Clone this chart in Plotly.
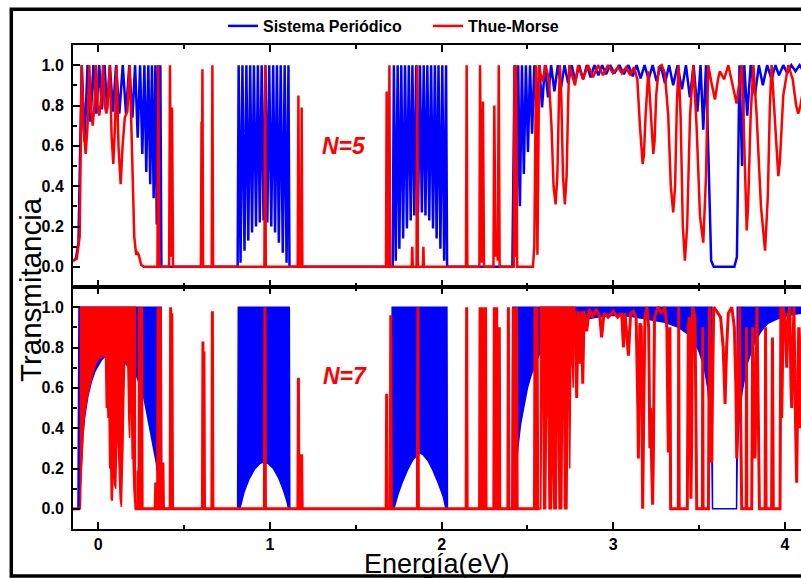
import plotly.graph_objects as go

# ---------------- data ----------------
# N=5, periodic system: (energy eV, transmittance)
blue5 = [
    (-0.147, 0.03), (-0.130, 0.04), (-0.115, 0.12), (-0.105, 0.5), (-0.096, 1.0),
    (-0.079, 0.62), (-0.062, 1.0), (-0.045, 0.72), (-0.028, 1.0), (-0.011, 0.76),
    (0.006, 1.0), (0.021, 0.78), (0.037, 1.0), (0.052, 0.78), (0.068, 1.0),
    (0.086, 0.77), (0.104, 1.0), (0.123, 0.76), (0.143, 1.0), (0.162, 0.76),
    (0.181, 1.0), (0.199, 0.74), (0.215, 1.0), (0.230, 0.64), (0.244, 1.0),
    (0.257, 0.56), (0.269, 1.0), (0.280, 0.47), (0.292, 1.0), (0.303, 0.41),
    (0.313, 1.0), (0.323, 0.34), (0.333, 1.0), (0.341, 0.21), (0.349, 1.0),
    (0.356, 0.08), (0.362, 1.0), (0.368, 0.0),
    (0.812, 0.0), (0.818, 1.0), (0.829, 0.02), (0.840, 1.0), (0.852, 0.08), (0.863, 1.0),
    (0.874, 0.13), (0.885, 1.0), (0.896, 0.17), (0.907, 1.0), (0.919, 0.20), (0.930, 1.0),
    (0.941, 0.22), (0.952, 1.0), (0.963, 0.23), (0.974, 1.0), (0.985, 0.22), (0.996, 1.0),
    (1.008, 0.20), (1.019, 1.0), (1.030, 0.17), (1.041, 1.0), (1.052, 0.12), (1.063, 1.0),
    (1.075, 0.07), (1.086, 1.0), (1.097, 0.02), (1.108, 1.0), (1.114, 0.0),
    (1.715, 0.0), (1.722, 1.0), (1.733, 0.03), (1.744, 1.0), (1.754, 0.09), (1.765, 1.0),
    (1.776, 0.14), (1.787, 1.0), (1.798, 0.19), (1.809, 1.0), (1.820, 0.23), (1.830, 1.0),
    (1.841, 0.255), (1.852, 1.0), (1.863, 0.27), (1.874, 1.0), (1.885, 0.27), (1.896, 1.0),
    (1.906, 0.255), (1.917, 1.0), (1.928, 0.23), (1.939, 1.0), (1.950, 0.19), (1.961, 1.0),
    (1.971, 0.14), (1.982, 1.0), (1.993, 0.09), (2.004, 1.0), (2.015, 0.03), (2.026, 1.0),
    (2.032, 0.0),
    (2.412, 0.0), (2.425, 1.0), (2.435, 0.05), (2.446, 1.0), (2.456, 0.30), (2.468, 1.0),
    (2.479, 0.46), (2.491, 1.0), (2.503, 0.57), (2.515, 1.0), (2.527, 0.66), (2.540, 1.0),
    (2.554, 0.73), (2.569, 1.0), (2.585, 0.79), (2.602, 1.0), (2.620, 0.84), (2.638, 1.0),
    (2.657, 0.87), (2.677, 1.0), (2.696, 0.89), (2.716, 1.0), (2.737, 0.91), (2.758, 1.0),
    (2.779, 0.92), (2.801, 1.0), (2.824, 0.93), (2.846, 1.0), (2.868, 0.94), (2.890, 1.0),
    (2.913, 0.95), (2.935, 1.0), (2.958, 0.955), (2.982, 1.0), (3.006, 0.96), (3.035, 1.0),
    (3.062, 0.955), (3.088, 1.0), (3.113, 0.945), (3.136, 1.0), (3.159, 0.935), (3.182, 1.0),
    (3.206, 0.93), (3.229, 1.0), (3.252, 0.92), (3.276, 1.0), (3.301, 0.91), (3.325, 1.0),
    (3.349, 0.90), (3.374, 1.0), (3.400, 0.88), (3.423, 1.0), (3.446, 0.84), (3.468, 1.0),
    (3.490, 0.77), (3.508, 1.0), (3.524, 0.68), (3.540, 1.0), (3.555, 0.45), (3.570, 0.03),
    (3.585, 0.0),
    (3.705, 0.0), (3.720, 0.05), (3.735, 1.0), (3.750, 0.5), (3.763, 1.0), (3.780, 0.75),
    (3.800, 1.0), (3.825, 0.85), (3.848, 1.0), (3.871, 0.90), (3.896, 1.0), (3.922, 0.93),
    (3.944, 1.0), (3.965, 0.95), (3.990, 1.0), (4.013, 0.96), (4.037, 1.0), (4.061, 0.97),
    (4.085, 1.0), (4.100, 0.98),
]

# N=5, Thue-Morse
red5 = [
    (-0.147, 0.03), (-0.125, 0.04), (-0.108, 0.15), (-0.096, 1.0), (-0.085, 0.68),
    (-0.073, 0.56), (-0.062, 0.70), (-0.052, 1.0), (-0.042, 0.78), (-0.032, 0.70),
    (-0.022, 0.80), (-0.013, 1.0), (-0.003, 0.80), (0.006, 0.75), (0.016, 0.82),
    (0.028, 1.0), (0.038, 0.80), (0.048, 0.76), (0.058, 0.85), (0.068, 1.0),
    (0.078, 0.65), (0.088, 0.51), (0.098, 0.70), (0.107, 1.0), (0.118, 0.60),
    (0.131, 0.41), (0.142, 0.60), (0.155, 0.74), (0.170, 0.77), (0.183, 1.0),
    (0.190, 0.80), (0.197, 0.55), (0.210, 0.15), (0.221, 0.06), (0.229, 0.07),
    (0.236, 0.06), (0.250, 0.01), (0.265, 0.0), (0.345, 0.0), (0.350, 1.0),
    (0.356, 0.0), (0.413, 0.0), (0.418, 1.0), (0.424, 0.05), (0.430, 0.79),
    (0.436, 0.0), (0.598, 0.0), (0.602, 0.72), (0.604, 0.3), (0.607, 0.98),
    (0.611, 0.0), (0.661, 0.0), (0.665, 1.0), (0.669, 0.0), (0.968, 0.0),
    (0.972, 1.0), (0.976, 0.0), (1.162, 0.0), (1.166, 0.85), (1.170, 0.0),
    (1.181, 0.0), (1.185, 0.79), (1.189, 0.0), (1.676, 0.0), (1.680, 0.87),
    (1.684, 0.0), (1.692, 0.0), (1.696, 1.0), (1.700, 0.0), (1.826, 0.0),
    (1.829, 0.1), (1.832, 0.0), (1.854, 0.0), (1.858, 1.0), (1.862, 0.0),
    (1.891, 0.0), (1.894, 0.1), (1.897, 0.0), (2.142, 0.0), (2.146, 1.0),
    (2.150, 0.0), (2.220, 0.0), (2.224, 1.0), (2.232, 0.02), (2.241, 0.82),
    (2.247, 0.0), (2.302, 0.0), (2.307, 0.80), (2.314, 0.05), (2.321, 0.17),
    (2.327, 0.03), (2.333, 1.0), (2.338, 0.0), (2.420, 0.0), (2.425, 1.0),
    (2.430, 0.05), (2.434, 1.0), (2.440, 0.0), (2.532, 0.0), (2.540, 0.1),
    (2.545, 0.5), (2.550, 1.0), (2.555, 0.4), (2.558, 0.06), (2.562, 0.4),
    (2.568, 1.0), (2.578, 0.95), (2.590, 0.92), (2.605, 1.0), (2.625, 0.93),
    (2.640, 0.70), (2.652, 0.40), (2.664, 0.31), (2.674, 0.45), (2.684, 0.85),
    (2.689, 1.0), (2.697, 0.85), (2.707, 0.45), (2.718, 0.31), (2.728, 0.45),
    (2.738, 0.85), (2.744, 1.0), (2.760, 0.95), (2.777, 0.90), (2.795, 1.0),
    (2.824, 0.93), (2.853, 1.0), (2.882, 0.94), (2.911, 1.0), (2.940, 0.95),
    (2.969, 1.0), (2.998, 0.96), (3.027, 0.99), (3.050, 0.96), (3.075, 0.99),
    (3.098, 0.95), (3.120, 0.99), (3.140, 0.93), (3.155, 0.70), (3.165, 0.55),
    (3.171, 0.51), (3.178, 0.55), (3.188, 0.75), (3.204, 0.97), (3.216, 0.80),
    (3.226, 0.60), (3.233, 0.56), (3.240, 0.62), (3.250, 0.85), (3.265, 0.99),
    (3.282, 1.0), (3.300, 0.96), (3.320, 0.75), (3.335, 0.40), (3.349, 0.27),
    (3.360, 0.40), (3.370, 0.80), (3.380, 1.0), (3.392, 0.75), (3.405, 0.20),
    (3.417, 0.03), (3.430, 0.20), (3.447, 0.75), (3.466, 1.0), (3.485, 0.70),
    (3.505, 0.25), (3.524, 0.12), (3.540, 0.45), (3.553, 1.0), (3.570, 0.92),
    (3.592, 0.83), (3.610, 0.93), (3.621, 0.97), (3.645, 0.93), (3.670, 1.0),
    (3.695, 0.90), (3.718, 0.81), (3.735, 0.92), (3.748, 1.0), (3.760, 0.70),
    (3.770, 0.30), (3.777, 0.18), (3.785, 0.30), (3.800, 0.75), (3.816, 1.0),
    (3.835, 0.75), (3.860, 0.30), (3.884, 0.08), (3.900, 0.35), (3.912, 0.80),
    (3.922, 1.0), (3.940, 0.75), (3.955, 0.50), (3.961, 0.45), (3.970, 0.52),
    (3.990, 0.85), (4.019, 1.0), (4.045, 0.93), (4.065, 0.80), (4.077, 0.76),
    (4.090, 0.80), (4.100, 0.85),
]

# N=7, periodic system: dense bands as (energy, lower envelope, upper envelope)
blue7 = [
    (-0.147, 0, 0), (-0.118, 0, 0), (-0.112, 0, 1.0), (-0.105, 0.10, 1.0), (-0.100, 0.22, 1.0),
    (-0.090, 0.36, 1.0), (-0.080, 0.45, 1.0), (-0.060, 0.56, 1.0), (-0.040, 0.63, 1.0),
    (-0.020, 0.68, 1.0), (0.000, 0.71, 1.0), (0.020, 0.74, 1.0), (0.040, 0.755, 1.0),
    (0.060, 0.76, 1.0), (0.080, 0.755, 1.0), (0.100, 0.75, 1.0), (0.120, 0.74, 1.0),
    (0.140, 0.73, 1.0), (0.160, 0.72, 1.0), (0.180, 0.70, 1.0), (0.200, 0.68, 1.0),
    (0.222, 0.66, 1.0), (0.240, 0.62, 1.0), (0.261, 0.57, 1.0), (0.280, 0.49, 1.0),
    (0.300, 0.40, 1.0), (0.320, 0.31, 1.0), (0.338, 0.23, 1.0), (0.352, 0.13, 1.0),
    (0.362, 0.07, 1.0), (0.367, 0.0, 1.0), (0.370, 0, 0),
    (0.812, 0, 0), (0.816, 0, 1.0), (0.825, 0.0, 1.0), (0.850, 0.085, 1.0), (0.880, 0.15, 1.0),
    (0.910, 0.196, 1.0), (0.940, 0.224, 1.0), (0.965, 0.232, 1.0), (0.990, 0.225, 1.0),
    (1.020, 0.20, 1.0), (1.050, 0.155, 1.0), (1.080, 0.09, 1.0), (1.100, 0.035, 1.0),
    (1.108, 0.0, 1.0), (1.113, 0.0, 1.0), (1.116, 0, 0),
    (1.708, 0, 0), (1.712, 0, 1.0), (1.722, 0.0, 1.0), (1.745, 0.07, 1.0), (1.770, 0.13, 1.0),
    (1.800, 0.19, 1.0), (1.830, 0.24, 1.0), (1.860, 0.27, 1.0), (1.875, 0.275, 1.0),
    (1.890, 0.27, 1.0), (1.920, 0.24, 1.0), (1.950, 0.19, 1.0), (1.980, 0.13, 1.0),
    (2.010, 0.06, 1.0), (2.025, 0.0, 1.0), (2.031, 0.0, 1.0), (2.034, 0, 0),
    (2.410, 0, 0), (2.414, 0, 1.0), (2.420, 0.05, 1.0), (2.430, 0.17, 1.0), (2.445, 0.31, 1.0),
    (2.460, 0.42, 1.0), (2.480, 0.52, 1.0), (2.500, 0.60, 1.0), (2.520, 0.66, 1.0),
    (2.550, 0.73, 1.0), (2.580, 0.79, 1.0), (2.620, 0.84, 1.0), (2.660, 0.87, 1.0),
    (2.700, 0.90, 1.0), (2.750, 0.92, 1.0), (2.800, 0.935, 1.0), (2.900, 0.95, 1.0),
    (3.000, 0.96, 1.0), (3.100, 0.955, 1.0), (3.200, 0.94, 1.0), (3.300, 0.925, 1.0),
    (3.380, 0.90, 1.0), (3.430, 0.87, 1.0), (3.470, 0.83, 1.0), (3.500, 0.78, 1.0),
    (3.530, 0.70, 1.0), (3.550, 0.60, 1.0), (3.565, 0.45, 1.0), (3.574, 0.25, 1.0),
    (3.578, 0, 0), (3.718, 0, 0), (3.722, 0.26, 1.0), (3.730, 0.42, 1.0), (3.750, 0.58, 1.0),
    (3.780, 0.72, 1.0), (3.820, 0.82, 1.0), (3.860, 0.88, 1.0), (3.900, 0.92, 1.0),
    (3.950, 0.94, 1.0), (4.000, 0.955, 1.0), (4.050, 0.965, 1.0), (4.100, 0.97, 1.0),
]

# N=7, Thue-Morse: dense regions as (energy, lower envelope); upper envelope is 1.0
red7_band_low = [
    (-0.108, 0.0), (-0.104, 0.0), (-0.100, 0.15), (-0.094, 0.30), (-0.088, 0.37),
    (-0.079, 0.47), (-0.070, 0.53), (-0.060, 0.57), (-0.050, 0.61), (-0.041, 0.65),
    (-0.030, 0.68), (-0.020, 0.70), (-0.011, 0.73), (0.000, 0.74), (0.010, 0.75),
    (0.020, 0.755), (0.028, 0.76), (0.036, 0.755), (0.043, 0.75), (0.047, 0.50),
    (0.052, 0.62), (0.057, 0.45), (0.062, 0.55), (0.067, 0.20), (0.072, 0.30),
    (0.076, 0.05), (0.082, 0.04), (0.086, 0.15), (0.090, 0.30), (0.096, 0.12),
    (0.102, 0.10), (0.107, 0.30), (0.111, 0.45), (0.116, 0.35), (0.121, 0.20),
    (0.128, 0.05), (0.135, 0.01), (0.140, 0.12), (0.144, 0.30), (0.149, 0.55),
    (0.154, 0.73), (0.164, 0.75), (0.173, 0.70), (0.178, 0.45), (0.183, 0.35),
    (0.188, 0.60), (0.193, 0.55), (0.198, 0.25), (0.203, 0.25), (0.208, 0.10),
    (0.212, 0.0), (0.216, 0.0),
]
red7_band_mid = [
    (2.572, 0.0), (2.578, 0.0), (2.582, 0.5), (2.590, 0.6), (2.595, 0.0), (2.606, 0.0),
    (2.611, 0.45), (2.620, 0.55), (2.626, 0.0), (2.640, 0.0), (2.645, 0.3), (2.650, 0.3),
    (2.654, 0.0), (2.668, 0.0), (2.672, 0.4), (2.680, 0.45), (2.684, 0.0), (2.700, 0.0),
    (2.704, 0.5), (2.712, 0.5), (2.716, 0.0), (2.730, 0.0), (2.735, 0.55), (2.742, 0.65),
    (2.746, 0.2), (2.752, 0.7), (2.760, 0.8), (2.766, 0.6), (2.772, 0.9), (2.776, 0.95),
]
red7_band_top = 1.0

# N=7, Thue-Morse: rest of the curve (None = break)
red7 = [
    (-0.147, 0.0), (-0.108, 0.0), (-0.108, None),
    (0.212, 0.0), (0.229, 0.0), (0.232, 0.19), (0.235, 0.0), (0.237, 0.0), (0.240, 1.0),
    (0.243, 0.0), (0.250, 0.0), (0.253, 1.0), (0.256, 0.0), (0.332, 0.0), (0.335, 0.13),
    (0.338, 0.0), (0.346, 0.0), (0.349, 1.0), (0.352, 0.0), (0.359, 0.0), (0.362, 1.0),
    (0.365, 0.0), (0.374, 0.0), (0.377, 0.23), (0.380, 0.0), (0.419, 0.0), (0.422, 1.0),
    (0.426, 0.0), (0.429, 0.97), (0.433, 0.0), (0.607, 0.0), (0.610, 0.83), (0.613, 0.3),
    (0.616, 0.78), (0.619, 0.0), (0.662, 0.0), (0.665, 0.98), (0.668, 0.0), (0.968, 0.0),
    (0.971, 1.0), (0.974, 0.0), (1.163, 0.0), (1.166, 0.65), (1.169, 0.0), (1.182, 0.0),
    (1.185, 0.27), (1.188, 0.0), (1.677, 0.0), (1.680, 0.57), (1.683, 0.0), (1.701, 0.0),
    (1.704, 0.96), (1.707, 0.0), (1.859, 0.0), (1.862, 1.0), (1.865, 0.0), (2.143, 0.0),
    (2.146, 1.0), (2.149, 0.0), (2.221, 0.0), (2.224, 1.0), (2.228, 0.0), (2.235, 0.0),
    (2.238, 1.0), (2.241, 0.0), (2.253, 0.0), (2.256, 1.0), (2.259, 0.0), (2.304, 0.0),
    (2.307, 1.0), (2.311, 0.0), (2.318, 0.0), (2.321, 1.0), (2.325, 0.0), (2.333, 0.0),
    (2.336, 0.9), (2.339, 0.0), (2.386, 0.0), (2.389, 1.0), (2.392, 0.0), (2.415, 0.0),
    (2.418, 1.0), (2.422, 0.0), (2.424, 0.0), (2.427, 1.0), (2.431, 0.0), (2.434, 0.0),
    (2.437, 1.0), (2.440, 0.0), (2.541, 0.0), (2.544, 1.0), (2.548, 0.0), (2.553, 0.0),
    (2.556, 1.0), (2.560, 0.0), (2.572, 0.0), (2.573, None),
    (2.776, 0.98), (2.787, 0.55), (2.795, 0.98), (2.806, 0.72), (2.814, 0.98), (2.822, 0.62),
    (2.830, 0.98), (2.845, 0.88), (2.860, 0.99), (2.880, 0.95), (2.900, 0.99), (2.922, 0.95),
    (2.932, 0.85), (2.946, 0.97), (2.970, 0.95), (3.000, 0.98), (3.025, 0.95), (3.049, 0.97),
    (3.059, 0.80), (3.068, 0.97), (3.088, 0.76), (3.101, 0.97), (3.117, 0.98), (3.133, 0.95),
    (3.143, 0.5), (3.146, 0.25), (3.150, 0.6), (3.155, 0.92), (3.163, 0.90), (3.168, 0.3),
    (3.171, 0.0), (3.175, 0.3), (3.184, 0.95), (3.196, 1.0), (3.206, 0.9), (3.213, 0.3),
    (3.217, 0.5), (3.224, 0.2), (3.229, 0.02), (3.234, 0.3), (3.240, 0.95), (3.260, 1.0),
    (3.281, 0.97), (3.300, 1.0), (3.312, 0.90), (3.318, 0.45), (3.321, 0.28), (3.325, 0.5),
    (3.330, 0.90), (3.334, 0.0), (3.379, 0.0), (3.381, 1.0), (3.384, 0.0), (3.431, 0.0),
    (3.437, 0.9), (3.443, 0.95), (3.448, 0.3), (3.452, 0.05), (3.456, 0.3), (3.462, 1.0),
    (3.476, 0.95), (3.483, 0.3), (3.486, 0.0), (3.519, 0.0), (3.521, 0.9), (3.523, 0.0),
    (3.554, 0.0), (3.560, 1.0), (3.568, 0.6), (3.573, 0.23), (3.578, 0.6), (3.585, 1.0),
    (3.602, 0.98), (3.625, 0.95), (3.640, 0.8), (3.651, 0.52), (3.660, 0.8), (3.670, 0.97),
    (3.690, 1.0), (3.705, 0.9), (3.714, 0.6), (3.719, 0.25), (3.725, 0.6), (3.734, 1.0),
    (3.744, 0.3), (3.748, 0.0), (3.774, 0.0), (3.776, 0.9), (3.778, 0.0), (3.806, 0.0),
    (3.812, 0.9), (3.820, 0.5), (3.825, 0.25), (3.830, 0.5), (3.837, 1.0), (3.847, 0.3),
    (3.851, 0.0), (3.884, 0.0), (3.887, 0.9), (3.890, 0.0), (3.922, 0.0), (3.927, 0.85),
    (3.932, 0.0), (3.971, 0.0), (3.976, 1.0), (3.981, 0.45), (3.990, 1.0), (4.003, 0.9),
    (4.010, 0.7), (4.017, 0.95), (4.028, 1.0), (4.035, 0.6), (4.039, 0.5), (4.044, 0.7),
    (4.052, 1.0), (4.062, 0.4), (4.068, 0.13), (4.073, 0.5), (4.080, 0.9), (4.087, 0.4),
    (4.095, 0.8), (4.100, 0.9),
]

x_ticks = [0, 1, 2, 3, 4]
x_tick_labels = ["0", "1", "2", "3", "4"]
y_ticks = [0.0, 0.2, 0.4, 0.6, 0.8, 1.0]
y_tick_labels = ["0.0", "0.2", "0.4", "0.6", "0.8", "1.0"]
series_names = ["Sistema Periódico", "Thue-Morse"]
panel_labels = ["N=5", "N=7"]

BLUE = "#0000FF"
RED = "#FF0000"
FONT = "Liberation Sans"

# ---------------- figure ----------------
fig = go.Figure()

fig.add_trace(go.Scatter(x=[p[0] for p in blue5], y=[p[1] for p in blue5], mode="lines",
                         line=dict(color=BLUE, width=2.5), name=series_names[0],
                         xaxis="x2", yaxis="y2"))
fig.add_trace(go.Scatter(x=[p[0] for p in red5], y=[p[1] for p in red5], mode="lines",
                         line=dict(color=RED, width=2.5), name=series_names[1],
                         xaxis="x2", yaxis="y2"))

# N=7 periodic: filled band between the envelopes
bx = [p[0] for p in blue7] + [p[0] for p in blue7][::-1]
by = [p[1] for p in blue7] + [p[2] for p in blue7][::-1]
fig.add_trace(go.Scatter(x=bx, y=by, mode="lines", fill="toself", fillcolor=BLUE,
                         line=dict(color=BLUE, width=1.5), showlegend=False,
                         xaxis="x", yaxis="y"))

for band in (red7_band_low, red7_band_mid):
    rx = [p[0] for p in band] + [p[0] for p in band][::-1]
    ry = [p[1] for p in band] + [red7_band_top] * len(band)
    fig.add_trace(go.Scatter(x=rx, y=ry, mode="lines", fill="toself", fillcolor=RED,
                             line=dict(color=RED, width=1.5), showlegend=False,
                             xaxis="x", yaxis="y"))
fig.add_trace(go.Scatter(x=[p[0] for p in red7], y=[p[1] for p in red7], mode="lines",
                         line=dict(color=RED, width=3), showlegend=False,
                         connectgaps=False, xaxis="x", yaxis="y"))

L, R, T, B = 73, 0, 45, 49
W, H = 801, 578
PW, PH = W - L - R, H - T - B
XR = [-0.1468, 4.0932]

tickfont = dict(family=FONT, size=16, color="black", weight="bold")
common_x = dict(range=XR, tickvals=x_ticks, ticktext=x_tick_labels, ticks="inside",
                ticklen=7, tickwidth=2, tickcolor="black", showline=True, linewidth=2,
                linecolor="black", mirror="ticks", showgrid=False, zeroline=False,
                minor=dict(ticks="inside", ticklen=4, tickwidth=1.5, tickcolor="black",
                           dtick=0.5, tick0=0, showgrid=False),
                tickfont=tickfont)
common_y = dict(range=[-0.1, 1.1], tickvals=y_ticks, ticktext=y_tick_labels, ticks="inside",
                ticklen=7, tickwidth=2, tickcolor="black", showline=True, linewidth=2,
                linecolor="black", mirror=False, showgrid=False, zeroline=False,
                minor=dict(ticks="inside", ticklen=4, tickwidth=1.5, tickcolor="black",
                           dtick=0.1, tick0=0, showgrid=False),
                tickfont=tickfont, ticklabelstandoff=4)

fig.update_layout(
    width=W, height=H,
    margin=dict(l=L, r=R, t=T, b=B, pad=0),
    paper_bgcolor="white", plot_bgcolor="white",
    xaxis=dict(domain=[0, 1], anchor="y", **common_x),
    xaxis2=dict(domain=[0, 1], anchor="y2", matches="x", showticklabels=False, **common_x),
    yaxis=dict(domain=[0, 0.5], anchor="x", **common_y),
    yaxis2=dict(domain=[0.5, 1], anchor="x2", **common_y),
    legend=dict(orientation="h", x=(223 - L) / PW, xanchor="left",
                y=(H - B - 26) / PH, yanchor="middle",
                font=dict(family=FONT, size=16, color="black", weight="bold"),
                bgcolor="rgba(0,0,0,0)", borderwidth=0,
                entrywidth=160, entrywidthmode="pixels"),
    showlegend=True,
)


def px(xp):
    return (xp - L) / PW


def py(yp):
    return (H - B - yp) / PH


fig.add_annotation(text="Transmitancia", x=px(30), y=py(290), xref="paper", yref="paper",
                   textangle=-90, showarrow=False, xanchor="center", yanchor="middle",
                   font=dict(family=FONT, size=29.5, color="black"))
fig.add_annotation(text="Energía(eV)", x=px(437), y=py(564), xref="paper", yref="paper",
                   showarrow=False, xanchor="center", yanchor="middle",
                   font=dict(family=FONT, size=27, color="black"))
fig.add_annotation(text="<i>" + panel_labels[0] + "</i>", x=px(344), y=py(146),
                   xref="paper", yref="paper", showarrow=False,
                   xanchor="center", yanchor="middle",
                   font=dict(family=FONT, size=23, color=RED, weight="bold"))
fig.add_annotation(text="<i>" + panel_labels[1] + "</i>", x=px(345), y=py(376),
                   xref="paper", yref="paper", showarrow=False,
                   xanchor="center", yanchor="middle",
                   font=dict(family=FONT, size=23, color=RED, weight="bold"))

# outer frame of the figure
fig.add_shape(type="rect", xref="paper", yref="paper",
              x0=px(11.3), x1=px(806), y0=py(576), y1=py(9.3),
              line=dict(color="black", width=3.5), fillcolor="rgba(0,0,0,0)", layer="above")

fig.write_html("out.html")
